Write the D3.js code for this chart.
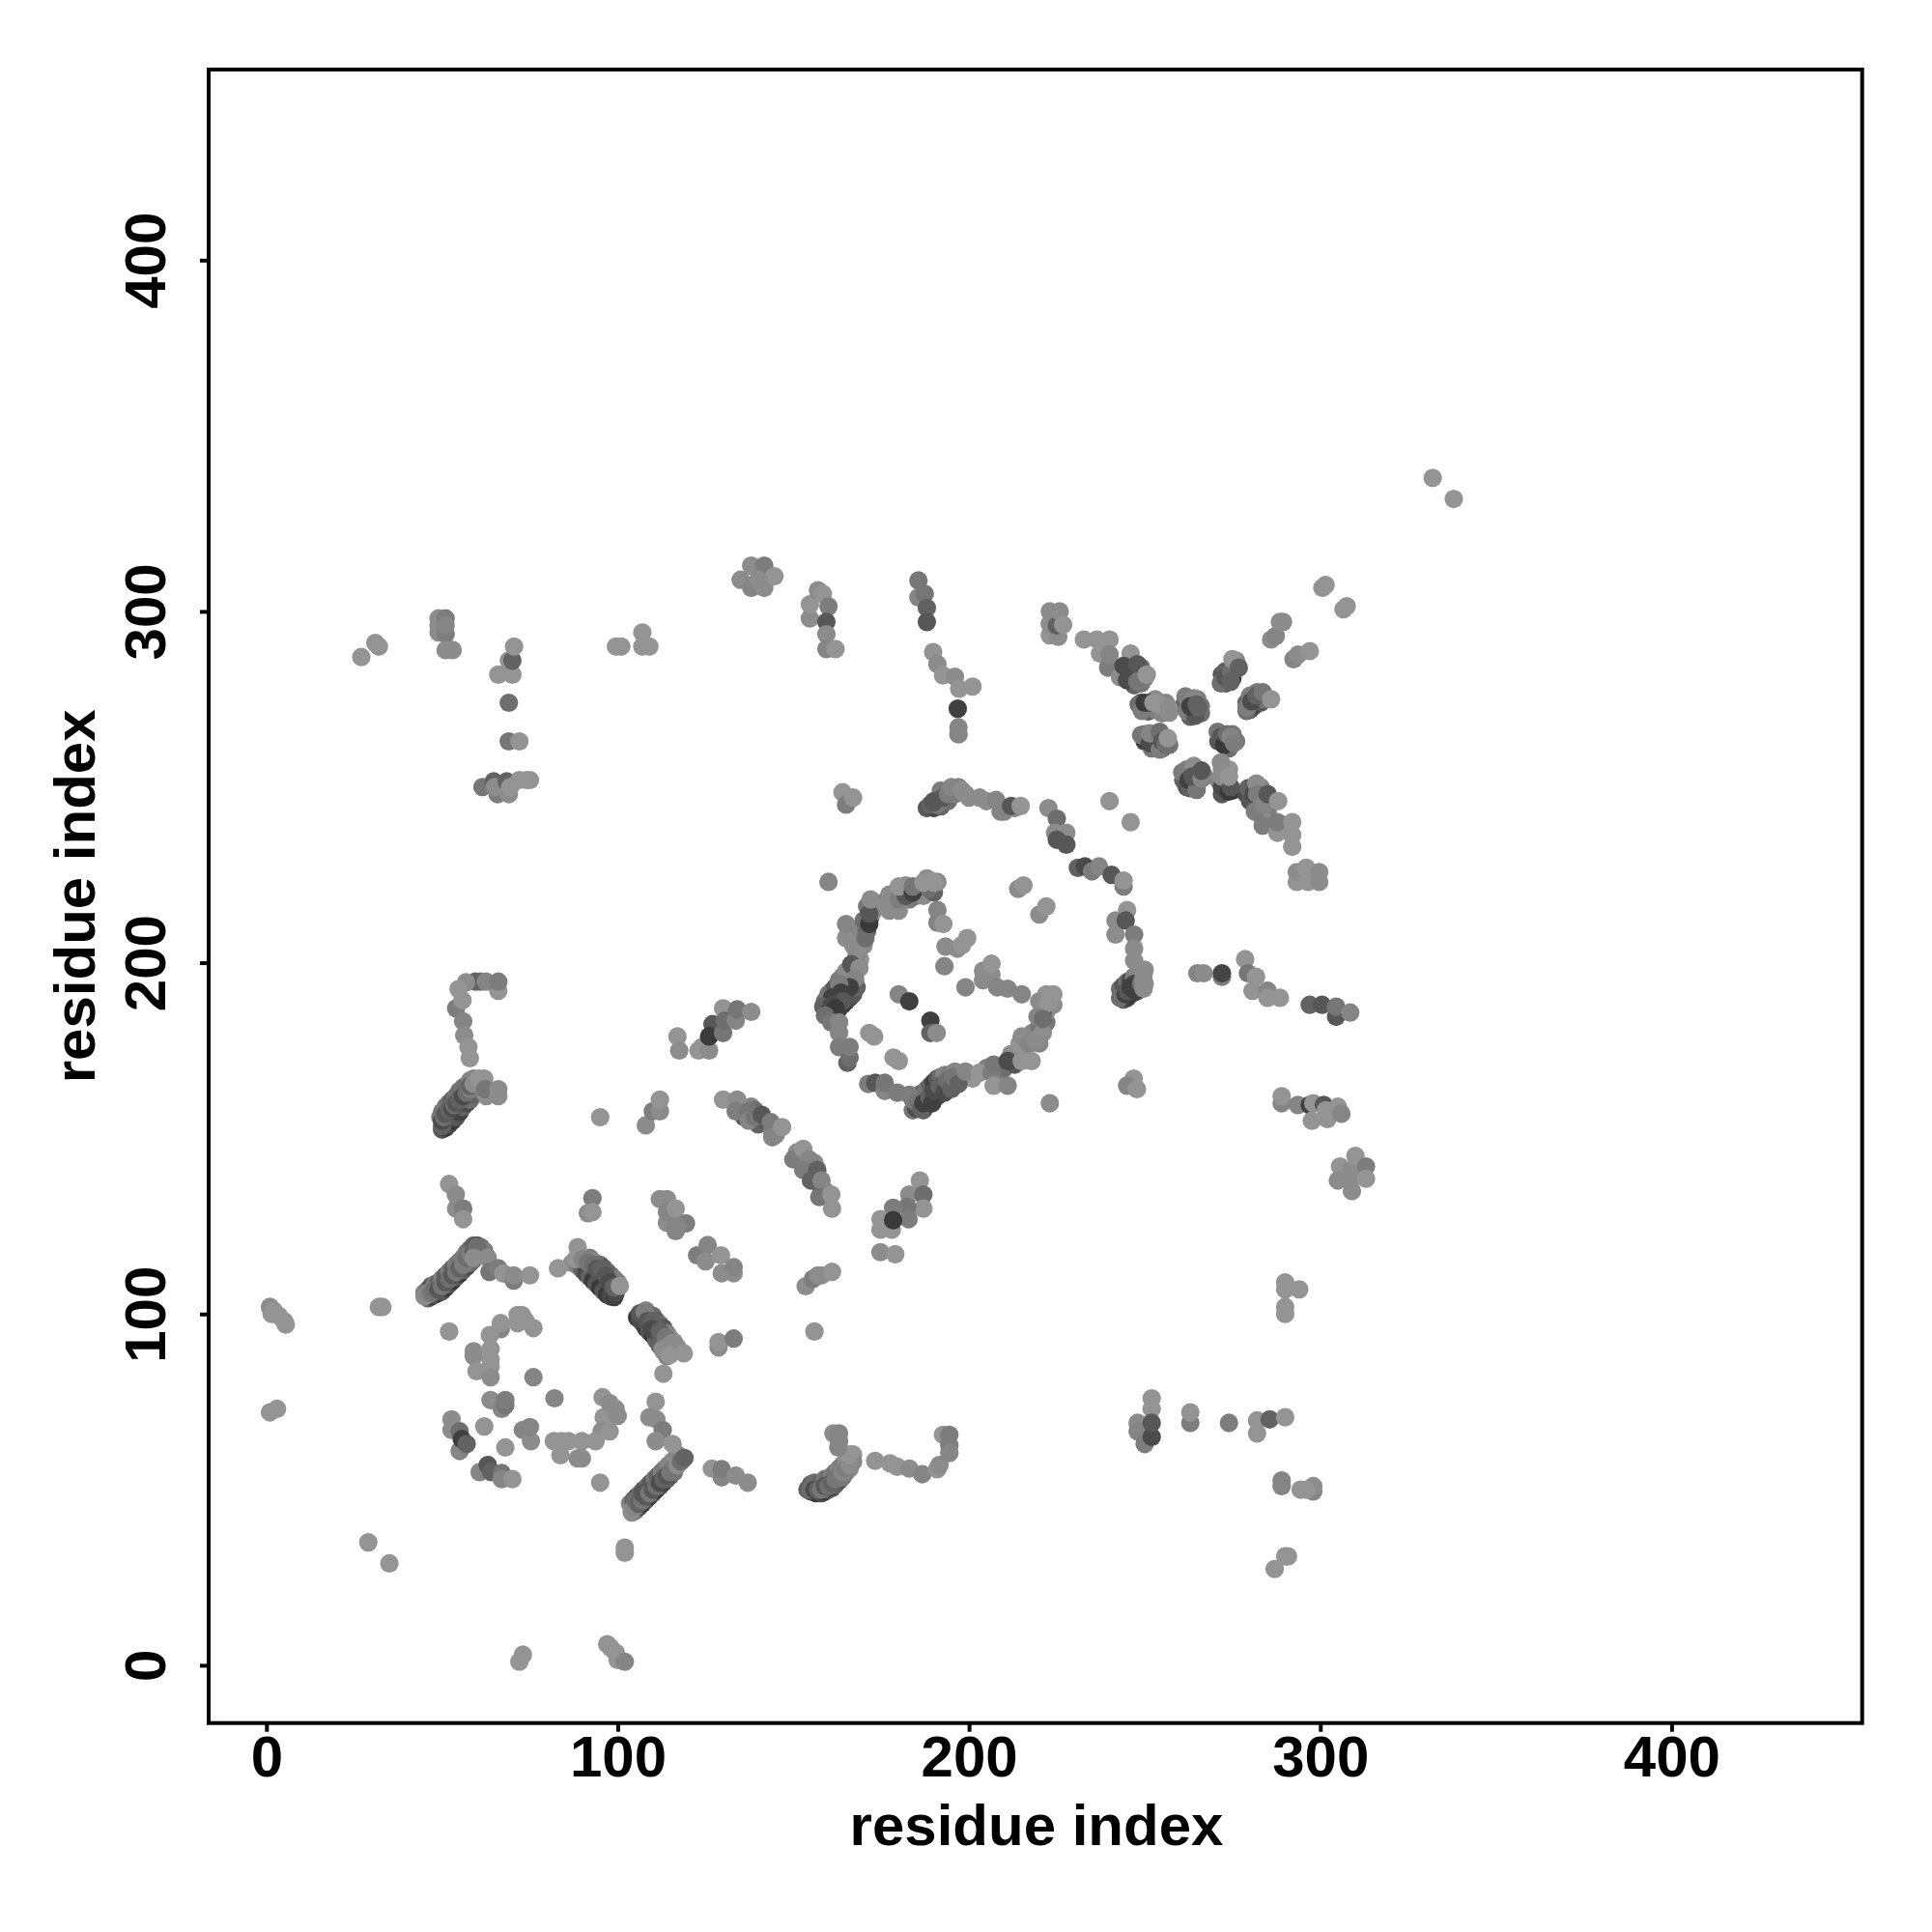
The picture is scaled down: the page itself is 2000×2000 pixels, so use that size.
<!DOCTYPE html>
<html><head><meta charset="utf-8">
<script src="https://cdn.jsdelivr.net/npm/d3@7"></script>
<style>html,body{margin:0;background:#fff}svg{display:block}text{font-family:"Liberation Sans",Arial,sans-serif;font-weight:bold;fill:#000}</style>
</head><body><div id="chart"></div>
<script>
const axisTitle = "residue index";
const tickValues = [0, 100, 200, 300, 400];
const axisLimits = [-16.45, 454.25];
// each entry: [residue i, residue j, contact strength 0..1]
const underHelixA = [[46,104.5,.6],[47,105,.9],[48,105.5,.7],[49,106,.95],[50,106.5,.7],[51,107.5,.95],[52,108.5,.7],[53,109.5,.95],[54,110.5,.7],[55,111.5,.95],[56,112.5,.6],[57,113.5,.8],[58,114.5,.5],[59,115.5,.5],[45,106,.3],[46,107,.4],[47,108,.7],[48,108.5,.3],[49,109,.6],[50,110,.3],[51,111,.6],[52,112,.3],[53,113,.6],[54,114,.3],[55,115,.4],[56,116,.3],[57,117.5,.3],[58,118.5,.5],[59,119.5,.6],[60,119.5,.7],[61,119,.5],[62,118,.3]];
const underHelixB = [[87,114.5,.1],[89,113.5,.3],[90,112.5,.6],[91,111.5,.8],[92,110.5,.6],[93,109.5,.95],[94,108.5,.7],[95,107.5,.95],[96,106.5,.7],[97,105.5,.95],[98,105,.8],[99,104.8,.9],[92,116,.3],[93,115,.2],[95,114,.5],[96,113,.7],[97,112,.5],[98,111,.6],[99,110,.3],[100,109,.3],[105.5,99,.95],[107,97.5,.7],[108,96,.95],[109,95,.7],[110,94,.95],[111,92.5,.6],[112,91,.6],[113,89.5,.3],[114,88,.2],[108,101,.2],[110,99.5,.5],[111,98,.7],[112,97,.5],[113,96,.7],[114,94.5,.2],[115,93,.1],[116,92,.1],[117,90.5,.1]];
const underHelixC = [[104,43.5,.1],[105,44,.3],[106,45,.8],[107,46,.95],[108,47,.7],[109,48,.95],[110,49,.7],[111,50,.95],[112,51,.7],[113,52,.9],[114,53,.6],[115,54,.7],[116,55,.4],[103.5,46,.2],[104.5,47,.6],[105.5,48,.8],[106.5,49,.5],[107.5,50,.8],[108.5,51,.5],[109.5,52,.7],[110.5,53,.4],[111.5,54,.6],[112.5,55,.3],[113.5,56,.4],[114.5,57,.2],[115.5,58,.2],[116.5,59,.1],[117,60,.2]];
const underLowerChain = [[155,49.5,.8],[156.5,49,.95],[158,49,.8],[159,49.5,.95],[160,50,.7],[161,50.5,.8],[162,51.5,.6],[163,52.5,.7],[164,53.5,.4],[165,55,.3],[166,56,.2],[155,51.5,.6],[156,52,.5],[158,52,.6],[159,53,.4],[160,53,.5],[161,54,.3],[162,55,.4],[163,56,.2],[164,57,.3],[165,58,.1],[166,59,.1],[167,60,0],[167,58,.2]];
const underLeftColumn = [[50,152.5,.7],[51,153,.95],[52,154,.8],[53,155,.95],[54,156,.7],[55,157.5,.9],[56,159,.6],[57,160,.8],[58,161,.5],[59,162.5,.6],[60,164,.3],[61,165,.2],[49.5,156,.3],[50,157.5,.4],[51,159,.3],[52,160,.5],[53,161,.6],[54,162,.4],[55,163.5,.5],[56,164.5,.4],[57,165,.5],[58,166.5,.2],[59,167,.2],[62,167,0]];
const underRing = [[160,185.5,.9],[161,186,.95],[162,186.5,.8],[163,187,.95],[164,188,.9],[165,189,.95],[166,190,.8],[167,191,.7],[168,193,.6],[159,189,.5],[160,191,.4],[161,192,.5],[162,193,.7],[163,195,.4],[164,196,.3],[165,197.5,.1],[167,199,.3],[168,201,.1],[169,201,0],[170,205,.1],[169,207,.2],[168,209,.2],[171,209,.6],[170,212,.5],[172,213,.2],[171,216,.4],[167,205,.1],[168,202,.2],[173,215,.1],[175,217,.2],[176,216,.1],[178,216,.1],[179,220,.2],[181,220,.2],[182,222,.1],[183,218,.3],[185,219,.4],[186,221,.5],[187,219,.1],[190,220,.6],[191,223,.1],[188,224,.1],[184,158,.4],[185,158.5,.8],[186,159,.95],[187,158,.6],[188,159.5,.95],[189,160.5,.7],[190,161,.95],[191,162,.8],[192,163,.95],[193,164,.7],[194,165,.8],[195,166,.5],[196,166,.6],[184,161,.3],[185,162,.5],[186,162.5,.4],[187,163,.6],[188,164,.4],[189,165,.6],[190,166,.9],[191,167,.7],[192,167.5,.5],[193,168,.2],[194,168,.3],[196,169,.2],[198,168.5,.1],[200,168,0],[201,167,0],[205,170,.3],[208,169,.4],[209,167,.2],[210,170,.5],[213,171,.7],[212,174,.1],[216,175,.1],[218,180,.2],[220,182,.4],[222,183,.4],[220,177,.2],[222,186,.1],[224,188,.1],[222,191,0],[224,191,0],[221,186,.6]];
const underColumn = [[244,189.5,.6],[245,190,.9],[246,191,.95],[247,191.5,.9],[248,192,.6],[249,193.5,.5],[243,192.5,.5],[244,193.5,.7],[245,194.5,.5],[246,195,.8],[247,196,.3],[248,197,.2],[250,194,.1],[250,198,.1]];
const underCross = [[244,282,.6],[245,283,.7],[246,282,.9],[247,281,.95],[248,283,.7],[249,284,.5],[246,285,.8],[247,279,.6],[249,279.5,.4],[250,281,.3],[249,274,.9],[250,272,.7],[251,271.5,.6],[252,272,.6],[253,272,.3],[253,275,.1],[255,271,.2],[256,274,.2],[250,263,.9],[250,265,.5],[252,264,.7],[253,262,.8],[253,264,.9],[252,261,.4],[254,263,.6],[255,261,.7],[257,262,.4],[261,273,.7],[262,275,.5],[263,270,.6],[263,275,.4],[264,272,.95],[265,271,.7],[266,271,.5],[266,273,.4],[265,275,.3],[272,282,.7],[273,283,.6],[274,281,.8],[275,281,.9],[275,284,.7],[276,286,.2],[272,280,.5],[273,279.5,.6],[279,274,.6],[280,272,.7],[281,273,.8],[282,274,.95],[283,274,.7],[282,277,.3],[284,275,.4],[280,276,.3],[271,263,.7],[272,265,.4],[273,262,.8],[274,263,.95],[275,265,.4],[276,263,.4],[274,261,.5],[261,252,.6],[262,255,.3],[262,250,.7],[264,252,.9],[265,255,.2],[265,251,.8],[267,253,.3],[264,254,.7],[263,251,.95],[272,255,.1],[274,255,0],[272,248,.7],[273,252,.3],[275,249,.9],[271,252,.2],[279,248,.8],[280,246,.7],[282,246,.6],[283,250,.2],[284,248,.4],[285,243,.3],[286,246,.4],[283,242,.2],[285,240,.1]];
const underMid = [[135,159,.3],[136,156,.7],[138,159,.2],[139,158,.5],[140,154,.6],[142,155,.7],[144,152,.2],[145,151,.1],[151,146,.1],[153,143,.3],[154,142,.3],[155,140,.6],[156,143,.1],[157,139,.7],[158,136,.8],[159,135,.4],[188,244,.7],[190,244,.8],[192,244.5,.6],[193,246,.4],[194,246,.5],[196,248,.3],[197,250,.2],[199,248,.1],[192,249,.3],[200,247,.1],[205,246,.1],[210,243,.2],[213,244,.1]];
const farOutliers = [[332,338,0],[338,332,0],[29,35,0],[35,29,0],[1,72,0],[3,73,0],[27,287,0],[31,291,0],[32,290,0],[95,156,0],[160,223,.2],[223,160,.1],[95,52,0],[52,95,0],[156,95,0],[83,113,0],[113,83,0]];
const bottomEdge = [[72,1,0],[73,3,0],[97,6,0],[98,5,0],[99.5,3.5,0],[100,1.5,0],[102,1,.2],[102,33.5,0],[102,32,0]];
const leftEdge = [[1,102,.1],[1.5,100,0],[2,101,0],[3.5,99.5,0],[5,98,0],[5.5,97,0],[32,102,0],[33,102,0]];
const helixA = [[45,105,.1],[46,106,.2],[47,106,.4],[48,107,.5],[49,107,.7],[50,108,.4],[51,109,.7],[52,110,.5],[53,111,.7],[54,112,.4],[55,113,.6],[56,114,.3],[57,116,.5],[58,117,.3],[59,118,.6],[60,119,.5],[59,116,.1],[63,116,.1],[63.5,112,.4],[66,113,.3],[67.5,111.5,0],[70.4,109.5,.3],[70.4,111,.1],[75,111,0]];
const helixB = [[88.6,119,0],[88,115.6,0],[90,115.6,.2],[91.5,114.7,.4],[93,114,.5],[94,112.8,.7],[95.5,112.8,.6],[96.6,111,.7],[97.7,109,.8],[99.4,106,.8],[98.9,107.6,.6],[100.6,108,0],[106.3,98.5,.8],[106.3,100.2,.7],[107.7,100.5,.3],[108.5,98,.7],[110,98,.6],[109.7,95.7,.8],[112,95,.6],[113.7,93.4,.4],[112.8,90,.1],[115.4,91.7,.1],[114.8,88.3,0],[118.8,88.8,0],[128.7,90.5,.1],[128.7,92,0],[133,93,.3]];
const innerRing = [[66.7,95.7,.2],[66.7,97.4,0],[71.5,99.7,0],[72.7,99.7,0],[71.5,97.4,0],[73.8,98,0],[76,96,0],[63.6,94,0],[59,88,.1],[59,89.4,.1],[63.8,90,0],[63.8,87,0],[59.8,83.7,0],[63.8,85,0],[63.8,82,.1],[76,82,.2],[82,76,.2],[63.8,75.5,.1],[67,73,.2],[68,74,.4],[68,75.5,.3],[95.7,76.3,0],[96,70.6,0],[95.4,66.6,.1],[97.7,66.6,0],[97.7,74.6,.1],[99.4,73,.1],[100,71,.1],[52.7,70,.1],[52.7,67,.1],[55,61,.2],[55,66.6,.5],[55.6,64.4,.9],[57,63,.6],[62,68,0],[68,62,0],[73,67,.2],[75.3,63.8,.1],[75,67.8,.2],[81.8,63.8,0],[84,63.8,0],[86,63.8,0],[89.8,63.8,0],[93.7,63.8,0],[83.7,59.8,0],[88.6,58.9,.1],[89.8,58.9,.1],[60.7,55,.2],[63,57,.7],[64,55,.6],[67,54.7,.4],[67,53,.2],[70,53,0]];
const helixC = [[110.8,75,0],[109,70.6,.1],[111,70,.1],[112.8,67,.3],[110.8,63.8,.1],[115.6,63,0],[104,44,.1],[105,45,.2],[105,47,.5],[106,46,.6],[107,47,.4],[107,49,.7],[108,48,.7],[109,49,.4],[110,50,.7],[111,51,.5],[112,52,.8],[113,53,.6],[114,54,.7],[115,55,.4],[116,56,.4],[117,57,.1],[118,58,.5],[119,59,.6],[126.8,56,0],[129.6,53.5,.2],[129.6,55.8,.3],[133.6,54,.1],[137,52,.1]];
const lowerChain = [[154,50,.6],[155,50,.5],[156,50,.8],[157,50,.6],[158,50,.4],[159,51,.7],[160,51,.5],[161,52,.6],[162,53,.4],[163,54,.4],[164,55,.2],[165,56,.3],[166,57,.1],[166,60,0],[161.4,66,.1],[163,66,.2],[162.8,62,.2],[163,63.7,.2],[173.3,58.2,0],[177.5,57.5,0],[179.6,56.5,0],[183,56,.1],[186.7,54.4,.2],[190.9,55.8,0],[192.6,65.6,0],[194.4,65.6,.3],[191.6,57,.1],[194.4,62.6,.3],[194.4,60.4,.2]];
const midRows = [[52,137,0],[53.9,134,.1],[54,130,.1],[56,130,.3],[56,127,0],[92.8,133,.3],[91.5,128.7,.1],[92.8,129,0],[112,132.7,.1],[114,132.7,.1],[114,126,.1],[116.5,123.6,.2],[114,129,.2],[116.5,130,0],[119.4,125.8,.3],[117,125,.2],[122.6,116.7,.3],[125.6,119.6,.2],[125,115,.1],[129.6,111.6,.1],[129.4,116.7,0],[133,111.6,.1],[133,113.3,.2],[153.5,107.9,.1],[155.6,110,.3],[157,111,.1],[158,111,.1],[161,112,0],[108,153.7,.1],[110,157.7,.3],[112,157.7,.1],[112,161,0],[130,161,0],[134,161,.1],[133.6,157.7,.3],[137.3,157.7,.4],[137.3,155,.2],[139,156,.4],[141,156.7,.7],[143.6,154.6,.3],[144,150.3,.2],[146.8,153.2,0],[150,144,.3],[152.8,147,0],[154.5,144,.2],[152.8,141,.3],[155,138,.6],[156.8,141,.6],[158,138,.2],[157.4,133.3,.4],[160.8,134,0],[161,130,0]];
const rightFork = [[186,138,0],[183,134,.1],[187,134,.5],[187,130,0],[182.4,130.5,.4],[178.4,130.2,.3],[182.8,127,.3],[174.8,124,0],[174.8,127,0],[178,124,0],[178.4,126.7,.95],[174.8,117.6,.1],[179,117,0]];
const leftColumn = [[66,192,0],[61,194.6,.5],[59.5,194.6,.6],[62.5,194.6,.2],[66,194.6,.3],[56.8,194.4,.1],[54.7,192.5,0],[54,187,.3],[55.8,189.3,0],[56,183.3,.2],[56.3,179.3,.1],[57.9,172.8,0],[57.5,176,0],[50,153.5,.6],[50,155,.8],[50.5,156,.5],[51,157,.7],[52,158,.6],[53,158.5,.8],[53.5,159.5,.5],[54,160,.7],[55,161,.6],[56,162,.8],[57,163,.5],[58,164,.3],[58,165,.6],[59,165.5,.1],[60.5,167,0],[62.6,162,.1],[62.3,164,.4],[66,162,.1],[66,164,.1]];
const topLeftStack = [[49,298,.1],[49,296,.1],[49,294,.1],[51,298,.3],[51,293.5,.3],[51,296,.2],[51,289,.1],[53,289,.1],[66,282,0],[69,286,0],[70,282,0],[70,286,.6],[70.5,290,0],[69,274,.5],[69,263,.4],[72,263,0],[61.5,250,.4],[64.7,251.6,.6],[65.8,248,.3],[65,250,.1],[68.4,251.6,.6],[69,248,.1],[69.4,250,0],[72,252,0],[74,252,0],[75,252,0],[99.5,290,0],[101,290,0],[107,294,0],[107,290,0],[109,290,0]];
const hairpinA = [[117,179,0],[117.5,175,.1],[123,175,0],[124,176,0],[126,175,.1],[127,182.5,.7],[126,179,.95],[130,180,.4],[130,187,0],[130.5,183.5,.5],[133.6,183.5,.2],[134,186.7,.4],[138,186,.1]];
const topRow = [[135,309,.1],[138,306.7,.2],[141.7,306.7,.1],[138,313,.1],[141.7,313,.3],[144.6,310,0],[140,309,.1],[154.7,298,.1],[154.7,302,0],[157,306,.1],[158.4,305,0],[160,301.4,.3],[159.4,297,.7],[159.4,293.5,.1],[159.4,289.3,.2],[162,289.3,0],[185.6,308.8,.4],[185.6,304,.2],[187.4,305,.4],[188,301,.6],[188,297,.7],[189.8,288.4,0],[191,285,.1],[192.6,281.8,0],[196,281.4,.1],[197.2,278,0],[201,278.6,0],[196.8,272.3,.9],[197,267,.2],[197,265,.2],[164,248.5,0],[165,245,.3],[167,247,0]];
const upperRow = [[189,245,.6],[190,246,.7],[191,245,.4],[189.8,245.6,.7],[192.6,247,.7],[194,248,.3],[195,250,.2],[198,249,.1],[203,247,.1],[207.7,246.3,.2],[209,243,.2],[212,244.6,.7],[214.7,244.6,0],[222.6,244,.1],[225,241,.5],[224.5,237,.1],[227.7,237,.1],[225,235,.7],[227.7,233.6,.7],[231,227,.6],[233,227.4,.8],[235,226,.3],[237,227.4,.2],[240.6,225,.7],[244,221.7,.3],[244,223.4,0]];
const ringTop = [[165,207,.1],[165,211,.2],[168.8,204,.1],[170.5,207,.5],[171.6,211,.95],[171.6,214,.7],[172,218,.1],[177.3,214.8,.1],[177.3,219.4,.1],[180,214.8,.1],[180,218,.3],[182,219,.7],[180,221.7,0],[184,220,.9],[184,221.7,.4],[188.7,221,.5],[187,222.8,0],[189,223.4,0],[190,222.8,0],[191,211.4,.2],[191,215,.2],[192.7,211,0],[193.3,204.6,.1],[196.7,204,.1],[198,205,0],[199.5,207,0],[193,199,.2],[199,193,.2],[204,195,.1],[204,197.7,.1],[206.4,196.6,.1],[206.4,199.7,0],[208,193,.2],[211,192.6,.2],[215,191,.2],[214,221,.1],[215.5,222,0],[220,213.7,.1],[222,216,0],[220,189,.1],[223,190,0],[222.5,188.5,0]];
const ringLeft = [[166.5,199.5,.7],[168.8,198.5,.1],[167.6,195.5,.2],[166,193,.9],[163,194,.3],[163.6,191.5,.9],[161,190,.9],[164,189,.7],[158.5,187.5,.6],[160,186,.9],[161,188,.8],[162,187,.95],[159,185,.5],[160.8,183,.4],[163,183,.2],[163,180,.2],[163,176,.3],[165.4,171.5,.6],[166,173,.5],[166,176,.3],[180,191,.2],[183,189,.9],[189,183.5,.9],[189,180,.6],[190.8,180,.1],[171.6,180,0],[173,179,0],[178.5,173,0],[180,172,0]];
const ringBottom = [[171.3,165.5,.3],[173.3,165.8,.7],[176,163.5,.2],[176,165.8,.4],[179.6,163,.3],[183,162.4,.3],[185.3,160,.4],[186.4,158.4,.6],[187,160,.9],[188.7,161.8,.6],[189.5,160,.9],[190,163.5,.8],[191.6,165,.6],[193,163,.8],[193.8,166.4,.5],[195,164,.6],[195.5,167.5,.4],[197,165.5,.6],[199,169,.2],[203,168.7,0],[206.4,168.7,.3],[207,165,0],[207,171,.4],[211,165,.2],[211,172,.8],[215,172,0],[217.8,172,0],[214.4,177,0],[215,179,.1],[217,177,.2],[219,178,.1],[221,180,.1],[219.5,184.6,.2],[221,184,.5],[223,190,0]];
const rightColumn = [[245,215,0],[241.7,212,.1],[241.7,208,.1],[244.6,212,.7],[247,208,.3],[247,204,.1],[247,200.6,.1],[243,190,.5],[244.6,191,.9],[245,192,.7],[247,194,.8],[246,193,.9],[247.4,192,.9],[249,194,.4],[249.7,192.6,.1],[249.7,195,.1],[249.7,196.6,.1],[246.9,167,0],[245,165,.2],[247.8,164,0]];
const rightDashes = [[265,197,.2],[266.8,197,.1],[272,196,.3],[272,197,.85],[278.6,201,0],[279.4,197,.4],[281.7,196,0],[280.7,192,0],[285,192,.2],[285,190,0],[288.5,190,0],[297,188,.6],[300.5,188,.7],[304.5,184.6,.7],[304.5,187.5,.4],[308.5,185.8,.2],[289,160,.2],[289,162,0],[293.6,159.5,.2],[297,159.5,.9],[297.6,155,0],[298,160,0],[301,159.5,.7],[302,155.5,0],[301.6,158,0],[305,159,0],[306,157,.2],[305.6,142,0],[305,138,.1],[309,135,.1],[308.5,138,.1],[309,141,.1],[310,145,0],[313,142,.3],[313,138.5,0]];
const lowerRight = [[290,109,0],[290,107,0],[294,107,0],[290,102,0],[290,100,0],[248,69,.1],[248,66.6,.2],[252,76,0],[252,73,0],[250,63,.3],[252,65,.8],[252,69,.7],[263,69,.3],[263,72,0],[274,69,.3],[282,66,0],[282,69.7,0],[285.6,70,.6],[290,70.6,0],[289,51,.2],[289,52.6,.2],[294.4,50,0],[298,49.5,.2],[298,51,.1],[296,50,0],[287,27.4,0],[290,31,0],[290.8,31,0]];
const crossArm = [[223,293.2,0],[223,296.5,.1],[223,300,.1],[225.4,292.8,.1],[225,296,.6],[225.8,300,.1],[226.8,296.2,0],[232.7,292,0],[236.4,292,0],[240,292,0],[237.3,288,0],[239.6,284,.3],[240,287.7,.2],[243,281.3,.1],[246,288,0],[244,284.5,.8],[245,280.4,.8],[247.9,285,.7],[247.9,280,.4],[250.6,282,0],[248.3,273.5,.5],[249.2,271.7,.3],[250,274,.95],[251.5,274,.9],[252.5,274,0],[254.3,273.5,0],[256.9,272.6,.1],[257,271.2,.1],[249,264.8,.4],[251.5,262.5,.8],[251.5,265.3,.2],[254.3,260.7,.3],[254.3,265.7,.5],[255,263,.7],[256,262,.5],[256.6,263.9,0],[261.6,275.8,.3],[262,271.7,.3],[264,275.3,.2],[264.4,270.3,.7],[263,273,.9],[264.8,273.5,.6],[265.3,272.6,.6],[271.7,279.5,.5],[273,281.3,.7],[274.5,283,.5],[274.5,280,.6],[275,286.4,0],[276.8,284,.6],[279,271.7,.5],[279,272.6,.3],[280.4,274.4,.8],[281.8,276,.6],[283.6,277,.4],[286,275,0],[286,292,.1],[287.3,293,.2],[288.5,297,.1],[289.4,297,.1],[292.4,286.4,.2],[293.7,287.7,.1],[297,288.7,0],[300.6,306.7,0],[301.5,307.5,0],[306.6,300.6,0],[307.5,301.5,0]];
const crossLower = [[270.8,265.7,.4],[271.7,264.3,.7],[272.6,262,.95],[273.5,265,.5],[274.5,264.3,.2],[275.4,262.5,.3],[260.7,254.2,.3],[263,249.7,.6],[262.5,252,.9],[264,256,.1],[264.8,249.2,.4],[263.5,253,.7],[266.2,252.4,.2],[266.2,254.7,.7],[271.7,257,.1],[272,250,.8],[272,253,.1],[274,248.7,.95],[274.5,250,.7],[274,253,0],[279.5,249.7,.6],[281,248,.8],[281.8,251,.1],[282,248,.3],[281.4,243,.3],[284,245,.2],[285,248,.7],[288,246,0],[283.6,239,.3],[287.8,237,0],[287.8,240,.3],[292,233,0],[292,236.3,0],[292,240,0],[240,246,0],[246,240,0],[293.3,223,0],[293.3,225.8,.1],[296.5,223,0],[296,227,0],[299.7,223,.1],[299.7,225.8,.1]];

const groups = [underHelixA, underHelixB, underHelixC, underLowerChain, underLeftColumn, underRing, underColumn, underCross, underMid, farOutliers, bottomEdge, leftEdge, helixA, helixB, innerRing, helixC, lowerChain, midRows, rightFork, leftColumn, topLeftStack, hairpinA, topRow, upperRow, ringTop, ringLeft, ringBottom, rightColumn, rightDashes, lowerRight, crossArm, crossLower];

const width = 2000, height = 2000;
const box = {left: 216, right: 1927.7, top: 72, bottom: 1783.7};
const x = d3.scaleLinear().domain(axisLimits).range([box.left, box.right]);
const y = d3.scaleLinear().domain(axisLimits).range([box.bottom, box.top]);
const shade = d3.scaleLinear().domain([0, .5, 1]).range(["#949494", "#6e6e6e", "#343434"]);

const svg = d3.select("#chart").append("svg").attr("width", width).attr("height", height).attr("viewBox", [0, 0, width, height]);
svg.append("rect").attr("width", width).attr("height", height).attr("fill", "#fff");

svg.append("g").selectAll("circle").data(groups.flat()).join("circle")
  .attr("cx", d => x(d[0])).attr("cy", d => y(d[1])).attr("r", 9.6).attr("fill", d => shade(d[2]));

svg.append("rect").attr("x", box.left).attr("y", box.top).attr("width", box.right - box.left).attr("height", box.bottom - box.top)
  .attr("fill", "none").attr("stroke", "#000").attr("stroke-width", 4);

const gx = svg.append("g").attr("transform", `translate(0,${box.bottom})`)
  .call(d3.axisBottom(x).tickValues(tickValues).tickFormat(d3.format("d")).tickSize(9).tickPadding(16));
const gy = svg.append("g").attr("transform", `translate(${box.left},0)`)
  .call(d3.axisLeft(y).tickValues(tickValues).tickFormat(d3.format("d")).tickSize(9).tickPadding(0));
gx.select(".domain").remove(); gy.select(".domain").remove();
svg.selectAll(".tick line").attr("stroke", "#000").attr("stroke-width", 4);
gx.selectAll("text").attr("font-size", 60).attr("dy", null).attr("y", 55).attr("fill", "#000");
gy.selectAll("text").attr("font-size", 60).attr("text-anchor", "middle").attr("dy", null).attr("x", null)
  .attr("transform", d => `translate(${170.5 - box.left},0) rotate(-90)`).attr("fill", "#000");
gx.selectAll("text").style("font-family", '"Liberation Sans"').style("font-weight", "bold");
gy.selectAll("text").style("font-family", '"Liberation Sans"').style("font-weight", "bold");

svg.append("text").attr("x", 1073).attr("y", 1910).attr("text-anchor", "middle").attr("font-size", 60).text(axisTitle);
svg.append("text").attr("transform", `translate(98,${(box.top + box.bottom) / 2}) rotate(-90)`).attr("text-anchor", "middle").attr("font-size", 60).text(axisTitle);
</script></body></html>
